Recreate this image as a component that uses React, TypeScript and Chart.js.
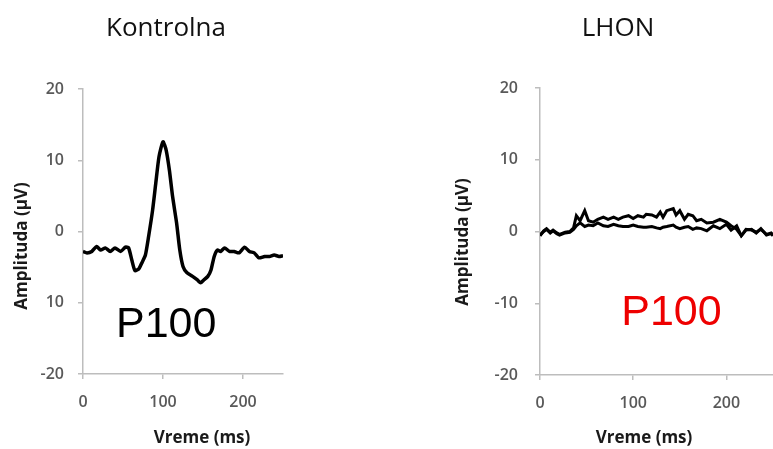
import React, { useEffect, useRef } from "react";
import { Chart, registerables } from "chart.js";

Chart.register(...registerables);

// ---- data ----
const CONTROL_TIME = [0, 5, 11, 17, 22, 28, 34, 40, 47, 53, 57, 61, 65, 70, 74, 78, 82, 87, 91, 95, 100, 104, 108, 112, 117, 121, 125, 130, 137, 143, 147, 151, 156, 160, 164, 168, 172, 177, 183, 189, 195, 202, 208, 214, 220, 227, 233, 239, 245, 250];
const CONTROL_AMP = [-2.8, -3.0, -2.8, -2.1, -2.6, -2.3, -2.8, -2.3, -2.8, -2.2, -2.3, -4.0, -5.5, -5.2, -4.3, -3.3, -0.7, 3.0, 6.8, 10.5, 12.6, 11.4, 8.6, 4.9, 1.2, -2.6, -4.9, -5.8, -6.3, -6.8, -7.2, -6.8, -6.3, -5.4, -3.5, -2.6, -2.8, -2.3, -2.8, -2.8, -3.0, -2.2, -2.8, -3.0, -3.7, -3.5, -3.5, -3.3, -3.5, -3.4];

const LHON_TIME = [0, 4, 7, 11, 14, 18, 21, 27, 32, 36, 39, 43, 48, 52, 57, 62, 68, 73, 79, 84, 89, 95, 100, 105, 111, 114, 120, 125, 129, 132, 136, 143, 146, 150, 155, 159, 164, 168, 173, 179, 186, 193, 200, 205, 211, 216, 221, 227, 232, 237, 243, 248, 250];
const LHON_AMP_UPPER = [-0.6, 0.1, 0.4, -0.1, 0.2, -0.2, -0.4, -0.1, 0.0, 0.5, 2.2, 1.5, 2.9, 1.5, 1.3, 1.7, 2.0, 1.7, 2.0, 1.7, 2.0, 2.2, 1.8, 2.2, 2.0, 2.4, 2.3, 2.0, 2.7, 2.0, 2.9, 3.2, 2.3, 2.9, 1.7, 2.4, 2.2, 1.5, 1.7, 1.2, 1.3, 1.7, 1.3, 0.8, 0.3, -0.6, 0.3, 0.2, -0.1, 0.3, -0.4, -0.2, -0.5];
const LHON_AMP_LOWER = [-0.5, 0.0, 0.3, -0.2, 0.1, -0.3, -0.5, -0.2, -0.1, 0.3, 0.8, 1.2, 0.7, 0.9, 0.8, 1.2, 0.8, 0.7, 1.0, 0.8, 0.7, 0.7, 0.9, 0.7, 0.6, 0.6, 0.7, 0.5, 0.4, 0.6, 0.7, 0.9, 0.6, 0.4, 0.6, 0.7, 0.3, 0.5, 0.4, 0.1, 0.8, 0.4, 1.0, 0.2, 0.8, -0.6, 0.2, 0.3, -0.2, 0.4, -0.5, -0.3, -0.6];

const Y_TICK_VALUES = [-20, -10, 0, 10, 20];
const CONTROL_Y_TICK_LABELS = ["-20", "10", "0", "10", "20"];
const LHON_Y_TICK_LABELS = ["-20", "-10", "0", "10", "20"];
const X_MIN = 0;
const X_MAX = 250;
const X_STEP = 100;

const CONTROL_TITLE = "Kontrolna";
const LHON_TITLE = "LHON";
const X_TITLE = "Vreme (ms)";
const Y_TITLE = "Amplituda (\u03bcV)";
const PEAK_LABEL = "P100";
// where the P100 label sits, in data units (time ms, amplitude baseline)
const CONTROL_PEAK_LABEL_AT = [104, -14.8];
const LHON_PEAK_LABEL_AT = [141, -13.0];

const TICK_FONT = { family: "'Open Sans', sans-serif", size: 16, weight: "600" as const };
const AXIS_GRAY = "#bdbdbd";
const TICK_COLOR = "#595959";

type Overlay = {
  titleX: number; titleY: number;
  xTitleX: number; xTitleY: number;
  yTitleX: number; yTitleY: number;
  peakAt: number[]; peakColor: string;
  title: string;
};

function overlayPlugin(o: Overlay) {
  return {
    id: "overlayText",
    afterDraw(chart: any) {
      const ctx = chart.ctx as CanvasRenderingContext2D;
      ctx.save();
      ctx.textAlign = "center";
      // chart title
      ctx.fillStyle = "#111111";
      ctx.font = "400 26px 'Open Sans', sans-serif";
      ctx.textBaseline = "alphabetic";
      ctx.fillText(o.title, o.titleX, o.titleY);
      // x axis title
      ctx.fillStyle = "#1a1a1a";
      ctx.font = "700 17px 'Open Sans', sans-serif";
      ctx.fillText(X_TITLE, o.xTitleX, o.xTitleY);
      // y axis title (rotated)
      ctx.save();
      ctx.translate(o.yTitleX, o.yTitleY);
      ctx.rotate(-Math.PI / 2);
      ctx.textBaseline = "middle";
      ctx.fillText(Y_TITLE, 0, 0);
      ctx.restore();
      // P100 label placed through the scales
      const px = chart.scales.x.getPixelForValue(o.peakAt[0]);
      const py = chart.scales.y.getPixelForValue(o.peakAt[1]);
      ctx.fillStyle = o.peakColor;
      ctx.font = "400 43px 'Liberation Sans', Arial, sans-serif";
      ctx.textBaseline = "alphabetic";
      ctx.fillText(PEAK_LABEL, px, py);
      ctx.restore();
    },
  };
}

function scalesFor(yLabels: string[], yWidth: number, xHeight: number, yPad: number) {
  const grid = { display: true, drawOnChartArea: false, drawTicks: true, tickLength: 5, color: AXIS_GRAY, lineWidth: 1.5 };
  const border = { display: true, color: AXIS_GRAY, width: 1.5 };
  return {
    x: {
      type: "linear" as const,
      min: X_MIN,
      max: X_MAX,
      ticks: {
        stepSize: X_STEP,
        includeBounds: false,
        padding: 14,
        color: TICK_COLOR,
        font: TICK_FONT,
        maxRotation: 0,
      },
      grid,
      border,
      afterFit: (s: any) => { s.height = xHeight; },
    },
    y: {
      type: "linear" as const,
      min: Y_TICK_VALUES[0],
      max: Y_TICK_VALUES[Y_TICK_VALUES.length - 1],
      ticks: {
        stepSize: 10,
        padding: yPad,
        color: TICK_COLOR,
        font: TICK_FONT,
        callback: (v: any) => {
          const i = Y_TICK_VALUES.indexOf(Number(v));
          return i >= 0 ? yLabels[i] : "";
        },
      },
      grid,
      border,
      afterFit: (s: any) => { s.width = yWidth; },
    },
  };
}

function points(xs: number[], ys: number[]) {
  return xs.map((x, i) => ({ x, y: ys[i] }));
}

export default function App() {
  const leftRef = useRef<HTMLCanvasElement | null>(null);
  const rightRef = useRef<HTMLCanvasElement | null>(null);

  useEffect(() => {
    const left = new Chart(leftRef.current as HTMLCanvasElement, {
      type: "line",
      data: {
        datasets: [
          {
            label: CONTROL_TITLE,
            data: points(CONTROL_TIME, CONTROL_AMP),
            borderColor: "#000000",
            borderWidth: 3.5,
            pointRadius: 0,
            tension: 0.2,
            fill: false,
          },
        ],
      },
      options: {
        animation: false,
        responsive: false,
        devicePixelRatio: 1,
        layout: { padding: { top: 89, right: 37, bottom: 0, left: 0 } },
        plugins: { legend: { display: false }, tooltip: { enabled: false }, title: { display: false } },
        scales: scalesFor(CONTROL_Y_TICK_LABELS, 83, 75, 14) as any,
      },
      plugins: [
        overlayPlugin({
          title: CONTROL_TITLE, titleX: 166, titleY: 36,
          xTitleX: 202, xTitleY: 443,
          yTitleX: 22, yTitleY: 246,
          peakAt: CONTROL_PEAK_LABEL_AT, peakColor: "#000000",
        }),
      ],
    });

    const right = new Chart(rightRef.current as HTMLCanvasElement, {
      type: "line",
      data: {
        datasets: [
          {
            label: "LHON 1",
            data: points(LHON_TIME, LHON_AMP_UPPER),
            borderColor: "#000000",
            borderWidth: 3,
            pointRadius: 0,
            tension: 0,
            fill: false,
          },
          {
            label: "LHON 2",
            data: points(LHON_TIME, LHON_AMP_LOWER),
            borderColor: "#000000",
            borderWidth: 3,
            pointRadius: 0,
            tension: 0,
            fill: false,
          },
        ],
      },
      options: {
        animation: false,
        responsive: false,
        devicePixelRatio: 1,
        layout: { padding: { top: 88, right: 0, bottom: 0, left: 0 } },
        plugins: { legend: { display: false }, tooltip: { enabled: false }, title: { display: false } },
        scales: scalesFor(LHON_Y_TICK_LABELS, 100, 74, 17) as any,
      },
      plugins: [
        overlayPlugin({
          title: LHON_TITLE, titleX: 178, titleY: 36,
          xTitleX: 204, xTitleY: 443,
          yTitleX: 23, yTitleY: 242,
          peakAt: LHON_PEAK_LABEL_AT, peakColor: "#ee0000",
        }),
      ],
    });

    return () => {
      left.destroy();
      right.destroy();
    };
  }, []);

  return (
    <div style={{ position: "absolute", left: 0, top: 0, width: 773, height: 449, background: "#ffffff", overflow: "hidden" }}>
      <canvas ref={leftRef} width={320} height={449} style={{ position: "absolute", left: 0, top: 0, width: 320, height: 449 }} />
      <canvas ref={rightRef} width={333} height={449} style={{ position: "absolute", left: 440, top: 0, width: 333, height: 449 }} />
    </div>
  );
}
